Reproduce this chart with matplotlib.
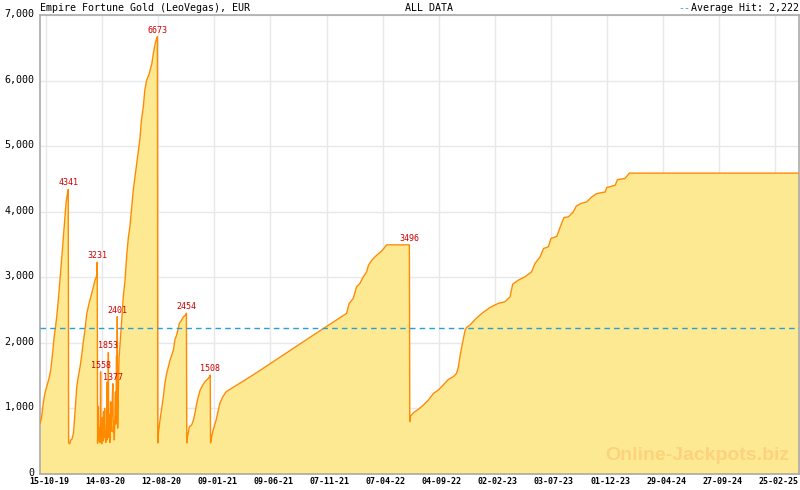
import matplotlib
matplotlib.use("Agg")
import matplotlib.pyplot as plt
import matplotlib.transforms as mtransforms
from matplotlib.ticker import FuncFormatter, MultipleLocator

# days since 15-10-2019 and jackpot value (EUR)
days = [-16, -12, -9, -6, -2, 2, 8, 13, 18, 22, 26, 29, 34, 40, 44, 47, 51, 54, 57, 60,
        61, 64, 67, 70, 74, 78, 83, 87, 92, 96, 100, 105, 110, 116, 123, 128, 132, 136, 138,
        139, 141, 142, 144, 146, 147, 148, 150, 152, 153, 155, 156, 158, 159, 161, 163, 164,
        165, 167, 168, 169, 171, 172, 174, 175, 177, 179, 180, 181, 183, 184, 186, 187, 188,
        190, 191, 192, 193, 194, 197, 204, 208, 213, 217, 222, 226, 230, 235, 242, 253, 257,
        262, 266, 271, 278, 285, 289, 294, 298, 300,
        301, 302, 307, 311, 316, 320, 325, 334, 343, 347, 353, 359, 365, 370, 377, 378,
        379, 381, 386, 392, 397, 401, 406, 410, 415, 422, 428, 437, 441, 442,
        443, 446, 450, 458, 464, 468, 476, 485, 560, 640, 720, 809,
        816, 827, 836, 845, 854, 863, 868, 877, 890, 904, 917, 978,
        979, 980, 989, 1002, 1016, 1029, 1043, 1056, 1069, 1083, 1096, 1105, 1110, 1114,
        1119, 1128, 1132, 1141, 1155, 1173, 1195, 1217, 1235, 1249, 1256, 1271, 1289, 1307,
        1316, 1330, 1339, 1352, 1359, 1375, 1384, 1394, 1406, 1419, 1427, 1439, 1455, 1469,
        1482, 1505, 1509, 1532, 1538, 1558, 1570, 2027]
values = [770, 850, 1000, 1130, 1250, 1330, 1450, 1590, 1850, 2090, 2250, 2400, 2700, 3110, 3400, 3620, 3900, 4130, 4250, 4341,
          473, 460, 520, 530, 620, 925, 1330, 1480, 1640, 1800, 1990, 2200, 2450, 2600, 2750, 2860, 2960, 3010, 3231,
          470, 1030, 520, 700, 480, 1558, 620, 460, 860, 500, 950, 560, 1000, 600, 480, 700, 1400,
          520, 800, 1853, 560, 900, 480, 1100, 650, 900, 1250, 1377, 640, 800, 520, 1000, 1250, 760,
          1800, 1100, 2401, 700, 1100, 1790, 2350, 2700, 2960, 3310, 3620, 3770, 4020, 4330, 4634, 5117, 5396,
          5600, 5854, 6006, 6108, 6260, 6413, 6565, 6650, 6673,
          473, 595, 823, 976, 1178, 1382, 1535, 1738, 1890, 2043, 2145, 2297, 2348, 2398, 2430, 2454,
          473, 569, 721, 747, 823, 930, 1082, 1178, 1280, 1357, 1407, 1459, 1494, 1508,
          473, 569, 671, 823, 976, 1078, 1178, 1255, 1520, 1820, 2120, 2450,
          2602, 2678, 2856, 2907, 3008, 3084, 3186, 3262, 3338, 3404, 3496, 3496,
          797, 874, 935, 986, 1052, 1128, 1230, 1280, 1357, 1443, 1483, 1535, 1636, 1788,
          1941, 2195, 2236, 2271, 2358, 2450, 2541, 2602, 2627, 2703, 2896, 2957, 3008, 3084,
          3212, 3313, 3440, 3465, 3592, 3628, 3770, 3913, 3923, 3998, 4085, 4126, 4151, 4227,
          4278, 4303, 4370, 4405, 4492, 4507, 4590, 4590]

peak_days = [60, 138, 147, 168, 180, 192, 300, 377, 442, 978]
peak_values = [4341, 3231, 1558, 1853, 1377, 2401, 6673, 2454, 1508, 3496]

average_hit = 2222
tick_labels = ["15-10-19", "14-03-20", "12-08-20", "09-01-21", "09-06-21", "07-11-21",
               "07-04-22", "04-09-22", "02-02-23", "03-07-23", "01-12-23", "29-04-24",
               "27-09-24", "25-02-25"]

mono = "DejaVu Sans Mono"
fig = plt.figure(figsize=(8, 4.9), dpi=100)
ax = fig.add_axes([0.05, 0.0327, 0.949, 0.9363])

ax.fill_between(days, values, 0, color="#fde992", linewidth=0, zorder=2)
ax.plot(days, values, color="#ff8a00", linewidth=1.0, zorder=3)
ax.axhline(average_hit, color="#2a9fd6", linestyle=(0, (4, 3)), linewidth=1.0, zorder=4)

for d, v in zip(peak_days, peak_values):
    ax.annotate(str(v), (d, v), xytext=(0, 1.5), textcoords="offset points",
                ha="center", va="bottom", fontsize=6, color="#cc0000",
                family=mono, zorder=5)

ax.set_xlim(-16, 2027)
ax.set_ylim(0, 7000)

ax.set_xticks([i * 151 for i in range(len(tick_labels))])
ax.set_xticklabels(tick_labels, family=mono, fontsize=6, fontweight="bold")
ax.xaxis.set_minor_locator(MultipleLocator(151 / 7))

ax.yaxis.set_major_locator(MultipleLocator(1000))
ax.yaxis.set_major_formatter(FuncFormatter(lambda v, p: f"{int(v):,}"))

ax.tick_params(axis="x", which="major", direction="in", length=5, color="#aaaaaa", pad=2.5)
ax.tick_params(axis="x", which="minor", direction="in", length=3, color="#aaaaaa")
ax.tick_params(axis="y", length=0, pad=4, labelsize=7.2)

ax.grid(True, which="major", color="#e8e8e8", linewidth=1, zorder=0)
ax.set_axisbelow(True)
for s in ax.spines.values():
    s.set_color("#aaaaaa")
    s.set_linewidth(1.2)

fig.text(40 / 800, 1 - 8 / 490, "Empire Fortune Gold (LeoVegas), EUR",
         family=mono, fontsize=7.2, va="center", ha="left")
fig.text(405 / 800, 1 - 8 / 490, "ALL DATA", family=mono, fontsize=7.2, va="center", ha="left")
fig.text(799 / 800, 1 - 8 / 490, "Average Hit: 2,222", family=mono, fontsize=7.2,
         va="center", ha="right")
fig.text(690 / 800, 1 - 8 / 490, "--", family=mono, fontsize=7.2, va="center", ha="right",
         color="#2a9fd6")

ax.text(0.987, 0.022, "Online-Jackpots.biz", transform=ax.transAxes, ha="right", va="bottom",
        fontsize=14, fontweight="bold", family="Liberation Sans", color="#fdd27c", zorder=2.5)

# nudge tick labels after ticks exist
fig.canvas.draw()
xoff = mtransforms.ScaledTranslation(3 / 100, 0, fig.dpi_scale_trans)
yoff = mtransforms.ScaledTranslation(0, 2 / 100, fig.dpi_scale_trans)
for lab in ax.get_xticklabels():
    lab.set_transform(lab.get_transform() + xoff)
for lab in ax.get_yticklabels():
    lab.set_family(mono)
    lab.set_transform(lab.get_transform() + yoff)

fig.savefig("out.png", dpi=100)
